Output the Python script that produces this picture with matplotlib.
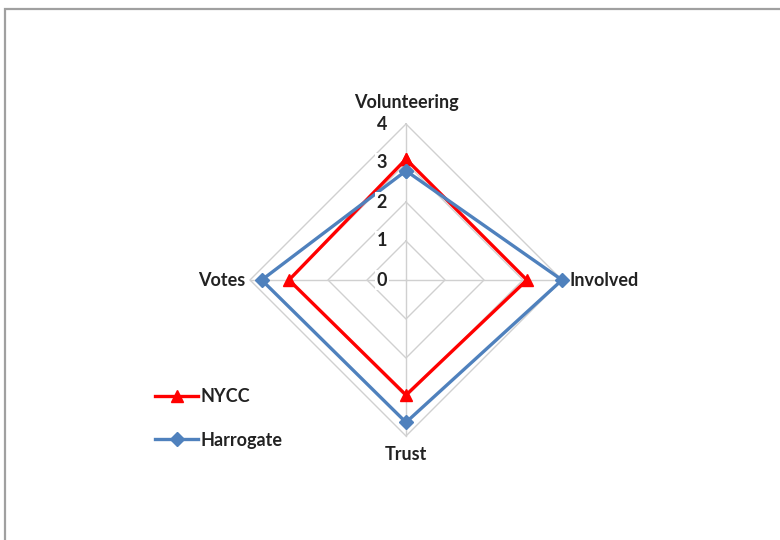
import numpy as np
import matplotlib
matplotlib.use("Agg")
import matplotlib.pyplot as plt
import matplotlib.transforms as mtrans
from matplotlib.patches import Rectangle

categories = ["Volunteering", "Involved", "Trust", "Votes"]
nycc = [3.1, 3.1, 2.95, 3.0]
harrogate = [2.8, 4.0, 3.65, 3.7]
rticks = [0, 1, 2, 3, 4]

plt.rcParams['font.family'] = ['Lato', 'DejaVu Sans']

fig = plt.figure(figsize=(7.8, 5.4), dpi=100)
fig.patch.set_facecolor('white')

# outer frame (like a chart-area border)
fig.patches.append(Rectangle((5/780, -0.05), 1.1, (540-9)/540 + 0.05,
                             transform=fig.transFigure, fill=False,
                             edgecolor='#A0A0A0', linewidth=1.6))

ax = fig.add_axes([250/780, 104/540, 312/780, 312/540], projection='polar')
ax.set_theta_offset(np.pi/2)
ax.set_theta_direction(-1)
ax.set_ylim(0, 4)
ax.grid(False)
ax.spines['polar'].set_visible(False)
ax.set_xticks([])
ax.set_yticks([])
ax.patch.set_alpha(0)

n = len(categories)
theta = np.arange(n) * 2*np.pi/n
theta_c = np.concatenate([theta, theta[:1]])

grid_col = '#D0D0D0'
for r in rticks[1:]:
    ax.plot(theta_c, [r]*(n+1), color=grid_col, lw=1.0, zorder=1, clip_on=False)
for t in theta:
    ax.plot([t, t], [0, rticks[-1]], color=grid_col, lw=1.0, zorder=1, clip_on=False)

def closed(v):
    return list(v) + [v[0]]

ax.plot(theta_c, closed(nycc), color='#FF0000', lw=2.4, marker='^',
        markersize=9, zorder=3, clip_on=False, label='NYCC')
ax.plot(theta_c, closed(harrogate), color='#4F81BD', lw=2.4, marker='D',
        markersize=7, zorder=4, clip_on=False, label='Harrogate')

# radial tick labels
off = mtrans.ScaledTranslation(-24/100, 0, fig.dpi_scale_trans)
for r in rticks:
    ax.text(0, r, str(r), transform=ax.transData + off, ha='center', va='center',
            fontsize=13, fontweight='bold', color='#222222', zorder=6,
            bbox=dict(boxstyle='square,pad=0.1', facecolor='white', edgecolor='none'))

# category labels
lab_kw = dict(fontsize=13, fontweight='bold', color='#222222')
ax.text(theta[0], 4.56, categories[0], ha='center', va='center', **lab_kw)
ax.text(theta[1], 4.18, categories[1], ha='left', va='center', **lab_kw)
ax.text(theta[2], 4.48, categories[2], ha='center', va='center', **lab_kw)
ax.text(theta[3], 4.12, categories[3], ha='right', va='center', **lab_kw)

leg = fig.legend(loc='center left', bbox_to_anchor=(155/780, (540-418.5)/540),
                 frameon=False, handlelength=2.4, handletextpad=0.1,
                 labelspacing=1.45, borderpad=0, borderaxespad=0,
                 prop={'family': 'Lato', 'weight': 'bold', 'size': 13})
for t in leg.get_texts():
    t.set_color('#222222')

fig.savefig('out.png', dpi=100, facecolor='white')
